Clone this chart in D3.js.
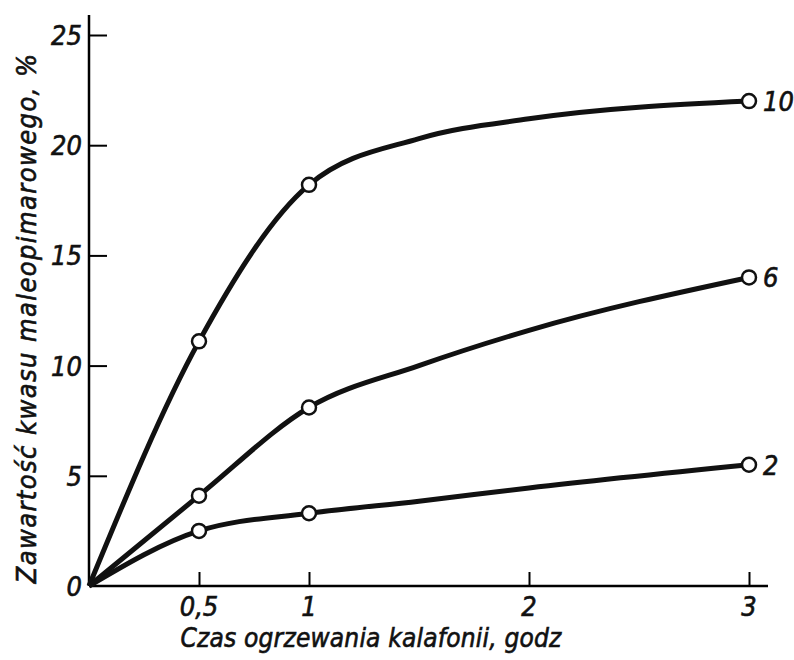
<!DOCTYPE html>
<html>
  <head>
    <meta charset="UTF-8"/>
    <script src="https://d3js.org/d3.v7.min.js"></script>
    <style>
      body { margin: 0; background: #fff; }
      svg text { font-family: 'DejaVu Sans Condensed', 'Liberation Sans Narrow', sans-serif; font-style: italic; fill: #111; stroke: #111; stroke-width: 0.6; }
    </style>
  </head>
  <body>
    <script>
      // time of heating (h) where samples were taken
      const hours = [0, 0.5, 1, 3];
      // maleopimaric acid content, % (one series per curve)
      const s10 = [0, 11.1, 18.2, 22.0];
      const s6 = [0, 4.1, 8.1, 14.0];
      const s2 = [0, 2.5, 3.3, 5.5];
      // extra readings along each drawn curve (no marker)
      const midHours = [1.5, 2];
      const mid10 = [20.3, 21.2];
      const mid6 = [10.0, 11.6];
      const mid2 = [3.85, 4.45];
      const seriesNames = ['10', '6', '2'];
      const xTicks = [0.5, 1, 2, 3];
      const xTickLabels = ['0,5', '1', '2', '3'];
      const yTicks = [5, 10, 15, 20, 25];

      const width = 794, height = 660;
      const svg = d3.select('body').append('svg')
        .attr('width', width).attr('height', height);

      const x = d3.scaleLinear().domain([0, 3]).range([89, 749]);
      const y = d3.scaleLinear().domain([0, 25]).range([586, 35]);

      // axes
      const xAxis = svg.append('g').attr('transform', 'translate(0,586)')
        .call(d3.axisTop(x).tickValues(xTicks).tickSize(14).tickFormat(''));
      xAxis.select('.domain').attr('d', 'M89,0H768').attr('stroke-width', 2.5);
      xAxis.selectAll('.tick line').attr('stroke-width', 2);

      const yAxis = svg.append('g').attr('transform', 'translate(89,0)')
        .call(d3.axisRight(y).tickValues(yTicks).tickSize(18).tickFormat(''));
      yAxis.select('.domain').attr('d', 'M0,15V586').attr('stroke-width', 2.5);
      yAxis.selectAll('.tick line').attr('stroke-width', 2);

      // tick labels
      svg.selectAll('.xlab').data(xTicks).enter().append('text')
        .attr('x', d => x(d)).attr('y', 616)
        .attr('text-anchor', 'middle').attr('font-size', 27)
        .text((d, i) => xTickLabels[i]);
      svg.selectAll('.ylab').data([0].concat(yTicks)).enter().append('text')
        .attr('x', 82).attr('y', d => y(d) + 10)
        .attr('text-anchor', 'end').attr('font-size', 27)
        .text(d => d);

      // axis titles
      svg.append('text').attr('x', 371).attr('y', 647)
        .attr('text-anchor', 'middle').attr('font-size', 26)
        .attr('letter-spacing', 0.2)
        .text('Czas ogrzewania kalafonii, godz');
      svg.append('text')
        .attr('transform', 'translate(36,318) rotate(-90)')
        .attr('text-anchor', 'middle').attr('font-size', 27)
        .attr('letter-spacing', 1.4)
        .text('Zawartość kwasu maleopimarowego, %');

      const line = d3.line().x(d => x(d[0])).y(d => y(d[1])).curve(d3.curveMonotoneX);
      const allSeries = [s10, s6, s2];
      const mids = [mid10, mid6, mid2];

      allSeries.forEach((vals, k) => {
        const pts = hours.map((h, i) => [h, vals[i]])
          .concat(midHours.map((h, i) => [h, mids[k][i]]))
          .sort((a, b) => a[0] - b[0]);
        svg.append('path').datum(pts)
          .attr('d', line).attr('fill', 'none')
          .attr('stroke', '#111').attr('stroke-width', 5)
          .attr('stroke-linejoin', 'round');

        svg.selectAll('.m' + k).data(hours.slice(1)).enter().append('circle')
          .attr('cx', d => x(d)).attr('cy', (d, i) => y(vals[i + 1]))
          .attr('r', 7).attr('fill', '#fff')
          .attr('stroke', '#111').attr('stroke-width', 2.5);

        svg.append('text')
          .attr('x', x(3) + 14).attr('y', y(vals[3]) + 10)
          .attr('font-size', 27)
          .text(seriesNames[k]);
      });
    </script>
  </body>
</html>
